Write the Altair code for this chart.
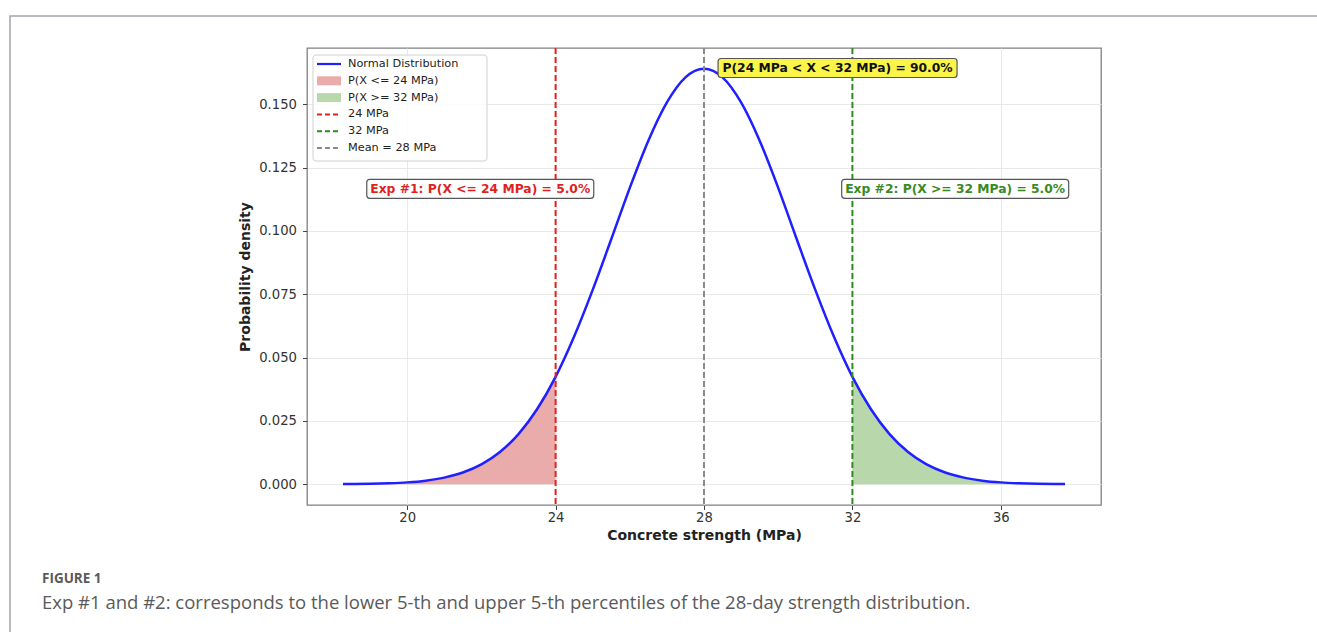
import altair as alt
import pandas as pd

# ---- data ----
strength = [18.27, 18.5, 19.0, 19.5, 20.0, 20.5, 21.0, 21.5, 22.0, 22.5, 23.0, 23.5,
            24.0, 24.5, 25.0, 25.5, 26.0, 26.5, 27.0, 27.5, 28.0, 28.5, 29.0, 29.5,
            30.0, 30.5, 31.0, 31.5, 32.0, 32.5, 33.0, 33.5, 34.0, 34.5, 35.0, 35.5,
            36.0, 36.5, 37.0, 37.5, 37.73]
density = [0.00005, 0.00008, 0.00017, 0.00037, 0.00073, 0.00141, 0.00261, 0.00461,
           0.00782, 0.0127, 0.0198, 0.0296, 0.0424, 0.0583, 0.0767, 0.0967, 0.1170,
           0.1356, 0.1507, 0.1606, 0.1640, 0.1606, 0.1507, 0.1356, 0.1170, 0.0967,
           0.0767, 0.0583, 0.0424, 0.0296, 0.0198, 0.0127, 0.00782, 0.00461, 0.00261,
           0.00141, 0.00073, 0.00037, 0.00017, 0.00008, 0.00005]

x_ticks = [20, 24, 28, 32, 36]
y_ticks = [0.0, 0.025, 0.05, 0.075, 0.1, 0.125, 0.15]

rule_values = [24, 32, 28]
rule_colors = ["#e52222", "#2f8a1f", "#8a8a8a"]

lower_limit = 24
upper_limit = 32

legend_labels = ["Normal Distribution", "P(X <= 24 MPa)", "P(X >= 32 MPa)",
                 "24 MPa", "32 MPa", "Mean = 28 MPa"]

annot_text = ["Exp #1: P(X <= 24 MPa) = 5.0%", "Exp #2: P(X >= 32 MPa) = 5.0%",
              "P(24 MPa < X < 32 MPa) = 90.0%"]
annot_x = [21.97, 34.77, 31.6]
annot_y = [0.1166, 0.1166, 0.1643]
annot_color = ["#e01f1f", "#3a8a1f", "#111111"]
annot_fill = ["#ffffff", "#ffffff", "#fbf54a"]
annot_width = [227, 227, 239]

caption_head = "FIGURE 1"
caption_text = ("Exp #1 and #2: corresponds to the lower 5-th and upper 5-th percentiles "
                "of the 28-day strength distribution.")

# ---- layout ----
VIEW_L, VIEW_T, VIEW_W, VIEW_H = 307, 48, 794, 457
TOTAL_W, TOTAL_H = 1317, 632

FONT = "DejaVu Sans"

curve_df = pd.DataFrame({"x": strength, "y": density})
left_df = curve_df[curve_df["x"] <= lower_limit]
right_df = curve_df[curve_df["x"] >= upper_limit]
rules_df = pd.DataFrame({"x": rule_values, "c": rule_colors})
annot_df = pd.DataFrame({"x": annot_x, "y": annot_y, "t": annot_text,
                         "c": annot_color, "f": annot_fill, "w": annot_width})
dummy = pd.DataFrame({"a": [0]})

xs = alt.Scale(domain=[17.30, 38.70], nice=False, zero=False)
ys = alt.Scale(domain=[-0.0082, 0.1722], nice=False, zero=False)

xaxis = alt.Axis(values=x_ticks, format="d", title="Concrete strength (MPa)", grid=True)
yaxis = alt.Axis(values=y_ticks, format=".3f", title="Probability density", grid=True)

X = alt.X("x:Q", scale=xs, axis=xaxis)
Y = alt.Y("y:Q", scale=ys, axis=yaxis)

layers = []

# outer page frame
layers.append(alt.Chart(dummy).mark_rect(fill="white", fillOpacity=0, stroke="#a3a3ab",
                                         strokeWidth=1.5).encode(
    x=alt.value(10 - VIEW_L), x2=alt.value(TOTAL_W + 10 - VIEW_L),
    y=alt.value(16 - VIEW_T), y2=alt.value(TOTAL_H + 10 - VIEW_T)))

# shaded tails
layers.append(alt.Chart(left_df).mark_area(color="#eaabab", interpolate="monotone").encode(
    x=X, y=Y, y2=alt.datum(0)))
layers.append(alt.Chart(right_df).mark_area(color="#b8d8ac", interpolate="monotone").encode(
    x=X, y=Y, y2=alt.datum(0)))

# curve
layers.append(alt.Chart(curve_df).mark_line(color="#1f1fff", strokeWidth=2.5,
                                            interpolate="monotone").encode(x=X, y=Y))

# vertical dashed rules
for v, c in zip(rule_values, rule_colors):
    layers.append(alt.Chart(rules_df[rules_df["x"] == v]).mark_rule(
        color=c, strokeWidth=2, strokeDash=[6, 3]).encode(x=X))

# annotation boxes
for i in range(len(annot_text)):
    sub = annot_df.iloc[[i]]
    w = annot_width[i]
    layers.append(alt.Chart(sub).mark_rect(
        fill=annot_fill[i], stroke="#555555", strokeWidth=1.2, cornerRadius=3,
        xOffset=-w / 2, x2Offset=w / 2, yOffset=-9.5, y2Offset=9.5).encode(
        x=X, x2=alt.X2("x"), y=Y, y2=alt.Y2("y")))
    layers.append(alt.Chart(sub).mark_text(
        font=FONT, fontWeight="bold", fontSize=12.3, color=annot_color[i],
        align="center", baseline="middle").encode(x=X, y=Y, text="t:N"))

# legend (drawn in pixel space of the plot area)
lg_x0, lg_y0 = 6, 7
row0, dy = 16, 16.8
layers.append(alt.Chart(dummy).mark_rect(fill="white", fillOpacity=0.85, stroke="#d0d0d0",
                                         strokeWidth=1, cornerRadius=3).encode(
    x=alt.value(lg_x0), x2=alt.value(180), y=alt.value(lg_y0), y2=alt.value(113)))
sample_l, sample_r = 10, 34
for i, lab in enumerate(legend_labels):
    py = row0 + i * dy
    if i == 0:
        layers.append(alt.Chart(dummy).mark_rule(color="#1f1fff", strokeWidth=2.2).encode(
            x=alt.value(sample_l), x2=alt.value(sample_r), y=alt.value(py)))
    elif i in (1, 2):
        col = "#eaabab" if i == 1 else "#b8d8ac"
        layers.append(alt.Chart(dummy).mark_rect(color=col).encode(
            x=alt.value(sample_l), x2=alt.value(sample_r),
            y=alt.value(py - 4.5), y2=alt.value(py + 4.5)))
    else:
        col = rule_colors[i - 3]
        layers.append(alt.Chart(dummy).mark_rule(color=col, strokeWidth=2,
                                                 strokeDash=[5, 3]).encode(
            x=alt.value(sample_l), x2=alt.value(sample_r), y=alt.value(py)))
    layers.append(alt.Chart(dummy).mark_text(text=lab, font=FONT, fontSize=11.3,
                                             color="#222222", align="left",
                                             baseline="middle").encode(
        x=alt.value(41), y=alt.value(py)))

# caption
layers.append(alt.Chart(dummy).mark_text(text=caption_head, font="Open Sans",
                                         fontWeight="bold", fontSize=13.5, color="#5a5a5a",
                                         align="left", baseline="middle").encode(
    x=alt.value(42 - VIEW_L), y=alt.value(579 - VIEW_T)))
layers.append(alt.Chart(dummy).mark_text(text=caption_text, font="Open Sans", fontSize=18.5,
                                         color="#5a5a5a", align="left",
                                         baseline="middle").encode(
    x=alt.value(42 - VIEW_L), y=alt.value(603 - VIEW_T)))

chart = alt.layer(*layers).properties(
    width=VIEW_W, height=VIEW_H,
    autosize=alt.AutoSizeParams(type="none"),
    padding={"left": VIEW_L, "top": VIEW_T,
             "right": TOTAL_W - VIEW_L - VIEW_W, "bottom": TOTAL_H - VIEW_T - VIEW_H},
).configure_view(stroke="#808080", strokeWidth=1.3).configure_axis(
    labelFont=FONT, labelFontSize=13.2, labelColor="#333333",
    titleFont=FONT, titleFontSize=14, titleFontWeight="bold", titleColor="#222222",
    tickColor="#444444", tickSize=4.5, tickWidth=1, domain=False,
    gridColor="#e6e6e6", gridWidth=0.9,
).configure_axisX(labelPadding=2, titlePadding=5).configure_axisY(
    labelPadding=6, titlePadding=6)

chart.save("out.html", embed_options={"renderer": "svg", "actions": False})
